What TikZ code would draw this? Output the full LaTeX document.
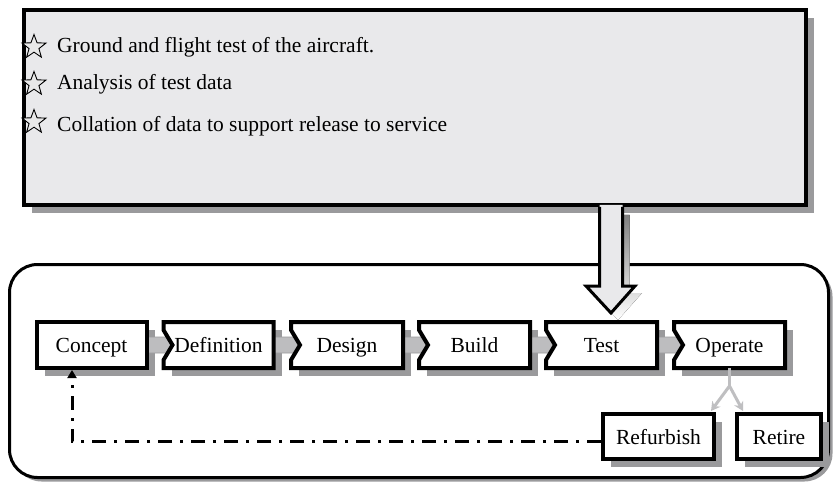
\documentclass[tikz,border=0pt]{standalone}
\usepackage{fontspec}
\setmainfont{Liberation Serif}
\usetikzlibrary{shapes.geometric,calc,arrows.meta,shadows}
\definecolor{panel}{HTML}{E9E9EB}
\definecolor{shade}{HTML}{9A9A9C}
\definecolor{linkgray}{HTML}{BDBDBF}
\definecolor{forkgray}{HTML}{BFBFC1}
\begin{document}
\begin{tikzpicture}[x=1pt,y=-1pt,
  txt/.style={font=\fontsize{21.5}{25}\selectfont, inner sep=0pt, anchor=base west},
  starnode/.style={star, star points=5, star point ratio=2.4, minimum size=25pt, inner sep=0pt, draw=black, line width=0.9pt, fill=gray!18},
  stage/.style={minimum height=46pt, inner sep=0pt, outer sep=0pt, text height=16pt, text depth=1pt,
    font=\fontsize{21.5}{25}\selectfont, fill=white, draw=none,
    drop shadow={fill=shade, opacity=1, shadow xshift=8pt, shadow yshift=-8pt}},
  boxline/.style={draw=black, line width=4pt, line join=miter},
  linkarrow/.style={fill=linkgray, draw=shade, line width=0.8pt},
  forkline/.style={draw=forkgray, line width=3pt},
  returnline/.style={draw=black, line width=3pt, dash pattern=on 14pt off 8pt on 3pt off 8pt},
  frame/.style={draw=black, line width=3pt, fill=white, rounded corners=28pt, outer sep=0pt,
    drop shadow={fill=shade, opacity=1, shadow xshift=4pt, shadow yshift=-4pt}},
  brief/.style={draw=black, line width=4pt, fill=panel, outer sep=0pt,
    drop shadow={fill=shade, opacity=1, shadow xshift=8pt, shadow yshift=-8pt}},
  bigarrow/.style={fill=panel},
  bigarrowline/.style={draw=black, line width=3pt, line join=miter}
]
\useasboundingbox (0,0) rectangle (835,489);

% outer rounded frame
\node[frame, minimum width=819pt, minimum height=213pt] (frm) at (419,371) {};

% top panel
\node[brief, minimum width=782pt, minimum height=195pt] (panelbox) at (415,107.5) {};

% big arrow from panel to Test
\coordinate (atip) at (611,313);
\fill[shade] ($(atip)+(-4.5,-98)$) -- ($(atip)+(-4.5,-20)$) -- ($(atip)+(-18,-20)$) -- ($(atip)+(7,7)$) -- ($(atip)+(31,-20)$) -- ($(atip)+(18.5,-20)$) -- ($(atip)+(18.5,-98)$) -- cycle;
\fill[bigarrow] ($(atip)+(-11.5,-108)$) -- ($(atip)+(-11.5,-27)$) -- ($(atip)+(-25,-27)$) -- (atip) -- ($(atip)+(24,-27)$) -- ($(atip)+(11.5,-27)$) -- ($(atip)+(11.5,-108)$) -- cycle;
\draw[bigarrowline] ($(atip)+(-11.5,-106)$) -- ($(atip)+(-11.5,-27)$) -- ($(atip)+(-25,-27)$) -- (atip) -- ($(atip)+(24,-27)$) -- ($(atip)+(11.5,-27)$) -- ($(atip)+(11.5,-106)$);

% panel text
\node[starnode] (s1) at (34,47) {};
\node[txt] (t1) at (57,53) {Ground and flight test of the aircraft.};
\node[starnode] (s2) at (34,84) {};
\node[txt] (t2) at (57,90) {Analysis of test data};
\node[starnode] (s3) at (34,122) {};
\node[txt] (t3) at (57,132) {Collation of data to support release to service};

% stages
\node[stage, minimum width=110pt] (concept) at (91.5,345) {Concept};
\node[stage, minimum width=110pt] (definition) at (218.5,345) {Definition};
\node[stage, minimum width=112pt] (design) at (347,345) {Design};
\node[stage, minimum width=111pt] (build) at (474.5,345) {Build};
\node[stage, minimum width=111pt] (test) at (601.5,345) {Test};
\node[stage, minimum width=111pt] (operate) at (729.5,345) {Operate};
\node[stage, minimum width=111pt, minimum height=45pt] (refurbish) at (658.5,436.5) {Refurbish};
\node[stage, minimum width=84pt, minimum height=45pt] (retire) at (779,436.5) {Retire};

% gray links
\foreach \a/\b in {concept/definition, definition/design, design/build, build/test, test/operate}{
  \filldraw[linkarrow] ($(\a.east)+(0,-8)$) -- ($(\b.west)+(3,-8)$) -- ($(\b.west)+(10,0)$) -- ($(\b.west)+(3,8)$) -- ($(\a.east)+(0,8)$) -- cycle;
}

% outlines
\draw[boxline] (concept.north west) rectangle (concept.south east);
\foreach \n in {definition, design, build, test, operate}{
  \draw[boxline] (\n.north west) -- (\n.north east) -- (\n.south east) -- (\n.south west) -- ($(\n.west)+(0,15)$) -- ($(\n.west)+(9,0)$) -- ($(\n.west)+(0,-15)$) -- cycle;
}
\draw[boxline] (refurbish.north west) rectangle (refurbish.south east);
\draw[boxline] (retire.north west) rectangle (retire.south east);

% fork from Operate
\draw[forkline] (operate.south) -- ++(0,18) coordinate (fk);
\draw[forkline, -{Stealth[length=9pt,width=10pt]}] (fk) -- ($(refurbish.north east)+(-3,-3)$);
\draw[forkline, -{Stealth[length=9pt,width=10pt]}] (fk) -- ($(retire.north west)+(6,-3)$);

% return path
\draw[returnline, -{Triangle[length=8pt,width=9pt]}] ($(refurbish.west)+(-2,5)$) -| ($(concept.south west)+(35.5,2)$);
\end{tikzpicture}
\end{document}
